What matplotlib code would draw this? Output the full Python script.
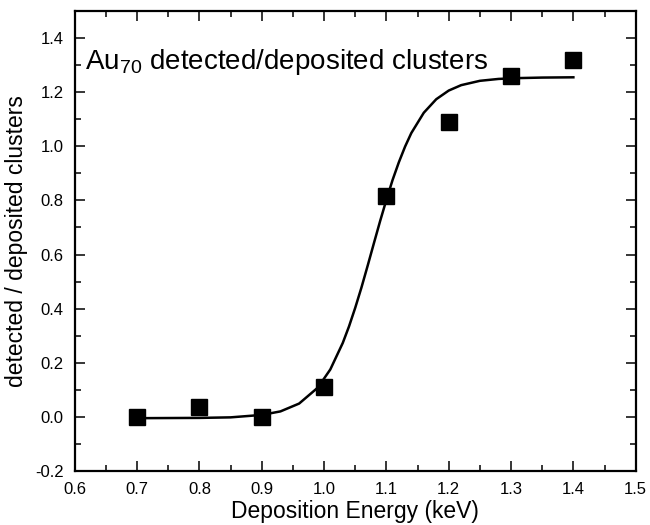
import numpy as np
import matplotlib.pyplot as plt
from matplotlib.ticker import MultipleLocator

plt.rcParams['font.family'] = ['Liberation Sans', 'DejaVu Sans']
plt.rcParams['mathtext.fontset'] = 'custom'
plt.rcParams['mathtext.rm'] = 'Liberation Sans'

# measured points
energy = [0.7, 0.8, 0.9, 1.0, 1.1, 1.2, 1.3, 1.4]
ratio = [0.0, 0.035, 0.0, 0.11, 0.815, 1.09, 1.26, 1.32]

# fit curve
fit_x = [0.70, 0.80, 0.85, 0.90, 0.93, 0.96, 0.99, 1.01, 1.03, 1.04, 1.05,
         1.06, 1.07, 1.08, 1.09, 1.10, 1.11, 1.12, 1.13, 1.14, 1.16, 1.18,
         1.20, 1.22, 1.25, 1.28, 1.31, 1.35, 1.40]
fit_y = [-0.005, -0.004, -0.002, 0.007, 0.020, 0.049, 0.108, 0.175, 0.273,
         0.334, 0.403, 0.478, 0.559, 0.642, 0.724, 0.802, 0.876, 0.941,
         0.999, 1.049, 1.124, 1.174, 1.206, 1.226, 1.242, 1.249, 1.252,
         1.254, 1.255]

fig = plt.figure(figsize=(6.5, 5.25), dpi=100)
ax = fig.add_axes([0.115, 0.103, 0.863, 0.876])

ax.plot(fit_x, fit_y, color='black', linewidth=1.8, zorder=2)
ax.plot(energy, ratio, linestyle='none', marker='s', markersize=11.5,
        color='black', zorder=3)

ax.set_xlim(0.6, 1.5)
ax.set_ylim(-0.2, 1.5)
ax.xaxis.set_major_locator(MultipleLocator(0.1))
ax.xaxis.set_minor_locator(MultipleLocator(0.05))
ax.yaxis.set_minor_locator(MultipleLocator(0.1))
ax.set_yticks(np.arange(-0.2, 1.41, 0.2))
ax.xaxis.set_major_formatter(plt.FormatStrFormatter('%.1f'))
ax.yaxis.set_major_formatter(plt.FormatStrFormatter('%.1f'))

ax.tick_params(which='both', direction='in', top=True, right=True,
               width=1.1, labelsize=12)
ax.tick_params(which='major', length=7)
ax.tick_params(which='minor', length=4)
ax.tick_params(axis='x', pad=8)
ax.tick_params(axis='y', pad=8)
for s in ax.spines.values():
    s.set_linewidth(1.6)

ax.set_xlabel('Deposition Energy (keV)', fontsize=16.5, labelpad=2)
ax.set_ylabel('detected / deposited clusters', fontsize=16.5, labelpad=5)

ax.text(0.617, 1.285, r'Au$_\mathregular{70}$ detected/deposited clusters',
        fontsize=20, va='baseline', ha='left')

fig.savefig('out.png', dpi=100)
